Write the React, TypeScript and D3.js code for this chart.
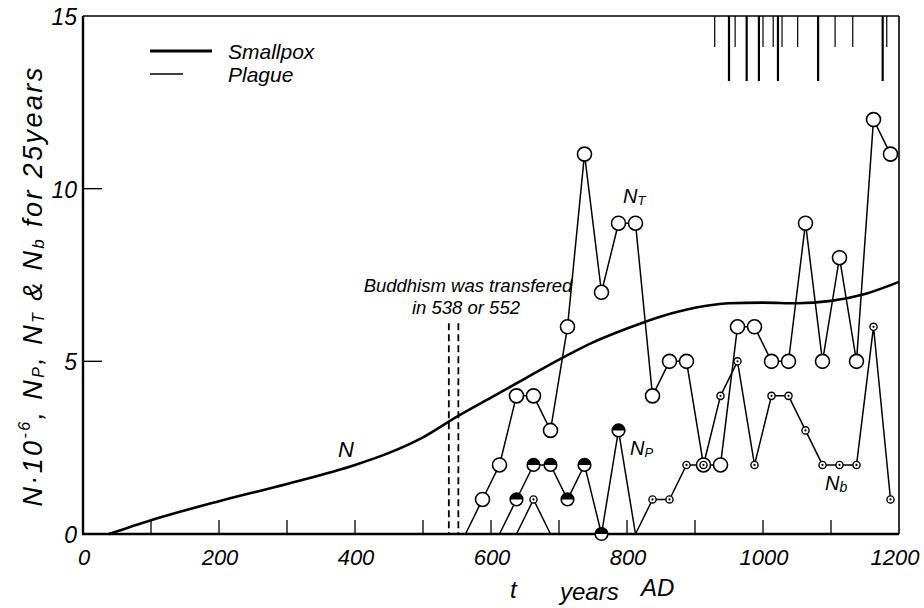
import React from "react";
import * as d3 from "d3";

// Midpoints of 25-year periods and the counts per period
const ntPeriods = [562.5, 587.5, 612.5, 637.5, 662.5, 687.5, 712.5, 737.5, 762.5, 787.5, 812.5, 837.5, 862.5, 887.5, 912.5, 937.5, 962.5, 987.5, 1012.5, 1037.5, 1062.5, 1087.5, 1112.5, 1137.5, 1162.5, 1187.5];
const ntCounts = [0, 1, 2, 4, 4, 3, 6, 11, 7, 9, 9, 4, 5, 5, 2, 2, 6, 6, 5, 5, 9, 5, 8, 5, 12, 11];

const npPeriods = [612.5, 637.5, 662.5, 687.5, 712.5, 737.5, 762.5, 787.5, 812.5];
const npCounts = [0, 1, 2, 2, 1, 2, 0, 3, 0];

const nbPeriodsEarly = [637.5, 662.5, 687.5];
const nbCountsEarly = [0, 1, 0];
const nbPeriodsLate = [812.5, 837.5, 862.5, 887.5, 912.5, 937.5, 962.5, 987.5, 1012.5, 1037.5, 1062.5, 1087.5, 1112.5, 1137.5, 1162.5, 1187.5];
const nbCountsLate = [0, 1, 1, 2, 2, 4, 5, 2, 4, 4, 3, 2, 2, 2, 6, 1];

// Population N (millions)
const popYears = [38, 100, 200, 300, 400, 450, 500, 550, 600, 650, 700, 750, 800, 850, 900, 950, 1000, 1050, 1100, 1150, 1200];
const popValues = [0, 0.4, 0.95, 1.45, 2.0, 2.35, 2.8, 3.4, 3.95, 4.5, 5.05, 5.55, 5.95, 6.3, 6.55, 6.68, 6.7, 6.68, 6.75, 6.95, 7.3];

// Epidemic years marked along the top
const smallpoxYears = [950, 976, 994, 1022, 1081, 1176];
const plagueYears = [929, 959, 1000, 1015, 1028, 1051, 1106, 1132, 1182];

const buddhismYears = [538, 552];

const xTicks = [0, 200, 400, 600, 800, 1000, 1200];
const xMinorTicks = [100, 200, 300, 400, 500, 600, 700, 800, 900, 1000, 1100];
const yTicks = [0, 5, 10, 15];
const yInnerTicks = [5, 10];

const FONT = "'Liberation Sans', Arial, sans-serif";

type Pt = { t: number; v: number };
const zip = (a: number[], b: number[]): Pt[] => a.map((t, i) => ({ t, v: b[i] }));

export default function App() {
  const x = d3.scaleLinear().domain([0, 1200]).range([83, 899]);
  const y = d3.scaleLinear().domain([0, 15]).range([534, 16]);

  const line = d3.line<Pt>().x((d) => x(d.t)).y((d) => y(d.v));
  const popLine = d3
    .line<Pt>()
    .x((d) => x(d.t))
    .y((d) => y(d.v))
    .curve(d3.curveMonotoneX);

  const nt = zip(ntPeriods, ntCounts);
  const np = zip(npPeriods, npCounts);
  const nbE = zip(nbPeriodsEarly, nbCountsEarly);
  const nbL = zip(nbPeriodsLate, nbCountsLate);
  const pop = zip(popYears, popValues);

  // segment ends that sit on zero carry no marker
  const marked = (arr: Pt[]) =>
    arr.filter((d, i) => !((i === 0 || i === arr.length - 1) && d.v === 0));

  const rT = 7;
  const rP = 6.3;
  const rB = 3.6;

  return (
    <svg
      width={924}
      height={608}
      style={{ position: "fixed", left: 0, top: 0, background: "#fff" }}
      fontFamily={FONT}
      fontStyle="italic"
    >
      <rect x={0} y={0} width={924} height={608} fill="#fff" />

      {/* frame */}
      <line x1={x(0)} x2={x(1200)} y1={y(15)} y2={y(15)} stroke="#000" strokeWidth={1.6} />
      <line x1={x(1200)} x2={x(1200)} y1={y(15)} y2={y(0)} stroke="#000" strokeWidth={1.6} />
      <line x1={x(0)} x2={x(0)} y1={y(15)} y2={y(0)} stroke="#000" strokeWidth={2.4} />
      <line x1={x(0) - 1} x2={x(1200)} y1={y(0)} y2={y(0)} stroke="#000" strokeWidth={2.6} />

      {xMinorTicks.map((t) => (
        <line key={"xt" + t} x1={x(t)} x2={x(t)} y1={y(0)} y2={y(0) - 14} stroke="#000" strokeWidth={1.3} />
      ))}
      {yInnerTicks.map((v) => (
        <line key={"yt" + v} x1={x(0)} x2={x(0) + 19} y1={y(v)} y2={y(v)} stroke="#000" strokeWidth={1.4} />
      ))}

      {xTicks.map((t) => (
        <text key={"xl" + t} x={x(t) + (t === 1200 ? -4 : 1)} y={565} fontSize={22} textAnchor="middle">
          {t}
        </text>
      ))}
      {yTicks.map((v) => (
        <text key={"yl" + v} x={77} y={y(v) + 9} fontSize={23} textAnchor="end">
          {v}
        </text>
      ))}

      {/* epidemic marks */}
      {smallpoxYears.map((t) => (
        <line key={"sp" + t} x1={x(t)} x2={x(t)} y1={y(15)} y2={81} stroke="#000" strokeWidth={2.2} />
      ))}
      {plagueYears.map((t) => (
        <line key={"pl" + t} x1={x(t)} x2={x(t)} y1={y(15)} y2={47} stroke="#000" strokeWidth={1.2} />
      ))}

      {/* legend */}
      <line x1={150} x2={212} y1={51} y2={51} stroke="#000" strokeWidth={2.8} />
      <text x={228} y={59} fontSize={21}>Smallpox</text>
      <line x1={150} x2={183} y1={74} y2={74} stroke="#000" strokeWidth={1.3} />
      <text x={228} y={82} fontSize={21}>Plague</text>

      {/* Buddhism */}
      {buddhismYears.map((t) => (
        <line key={"bd" + t} x1={x(t)} x2={x(t)} y1={y(6.1)} y2={y(0)} stroke="#000" strokeWidth={1.8} strokeDasharray="7,4" />
      ))}
      <text x={468} y={292} fontSize={18.5} textAnchor="middle">Buddhism was transfered</text>
      <text x={466} y={314} fontSize={18.5} textAnchor="middle">in 538 or 552</text>

      {/* population curve */}
      <path d={popLine(pop) || ""} fill="none" stroke="#000" strokeWidth={2.6} />
      <text x={338} y={457} fontSize={22}>N</text>

      {/* series lines */}
      {[nt, np, nbE, nbL].map((s, i) => (
        <path key={"s" + i} d={line(s) || ""} fill="none" stroke="#000" strokeWidth={1.5} />
      ))}

      {/* N_T markers */}
      {marked(nt).map((d, i) => (
        <circle key={"mt" + i} cx={x(d.t)} cy={y(d.v)} r={rT} fill="#fff" stroke="#000" strokeWidth={1.6} />
      ))}

      {/* N_P markers: upper half filled */}
      {marked(np).map((d, i) => {
        const cx = x(d.t);
        const cy = y(d.v);
        return (
          <g key={"mp" + i}>
            <circle cx={cx} cy={cy} r={rP} fill="#fff" stroke="#000" strokeWidth={1.6} />
            <path d={`M${cx - rP},${cy} A${rP},${rP} 0 0 1 ${cx + rP},${cy} Z`} fill="#000" />
          </g>
        );
      })}

      {/* N_b markers: dotted circles */}
      {[...marked(nbE), ...marked(nbL)].map((d, i) => (
        <g key={"mb" + i}>
          <circle cx={x(d.t)} cy={y(d.v)} r={rB} fill="#fff" stroke="#000" strokeWidth={1.4} />
          <circle cx={x(d.t)} cy={y(d.v)} r={1.1} fill="#000" />
        </g>
      ))}

      {/* series labels */}
      <text x={623} y={203} fontSize={20}>
        N<tspan fontSize={13} dy={2}>T</tspan>
      </text>
      <text x={630} y={455} fontSize={20}>
        N<tspan fontSize={13} dy={2}>P</tspan>
      </text>
      <text x={825} y={490} fontSize={20}>
        N<tspan fontSize={14} dy={2}>b</tspan>
      </text>

      {/* axis titles */}
      <text transform="translate(42,286) rotate(-90)" fontSize={27} letterSpacing={2.4} textAnchor="middle">
        N·10<tspan fontSize={16} dy={-12}>-6</tspan>
        <tspan dy={12}>, N</tspan>
        <tspan fontSize={16} dy={2}>P</tspan>
        <tspan dy={-2}>, N</tspan>
        <tspan fontSize={16} dy={2}>T</tspan>
        <tspan dy={-2}> &amp; N</tspan>
        <tspan fontSize={17} dy={2}>b</tspan>
        <tspan dy={-2}> for 25years</tspan>
      </text>
      <text x={510} y={598} fontSize={24}>t</text>
      <text x={560} y={600} fontSize={24}>years</text>
      <text x={641} y={596} fontSize={24}>AD</text>
    </svg>
  );
}
